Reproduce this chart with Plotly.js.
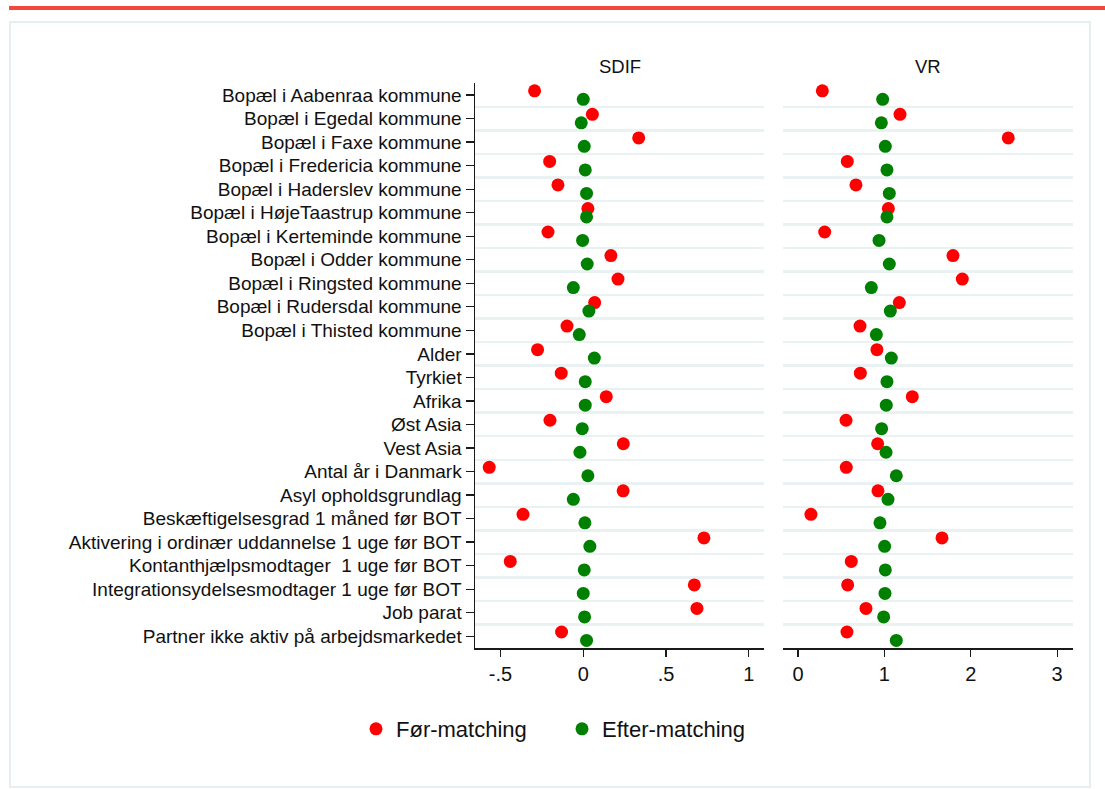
<!DOCTYPE html>
<html>
<head>
<meta charset="utf-8">
<script src="https://cdn.plot.ly/plotly-3.0.1.min.js"></script>
<style>html,body{margin:0;padding:0;background:#fff;}#chart{width:1105px;height:789px;}</style>
</head>
<body>
<div id="chart"></div>
<script>
const categories = [
  "Bopæl i Aabenraa kommune",
  "Bopæl i Egedal kommune",
  "Bopæl i Faxe kommune",
  "Bopæl i Fredericia kommune",
  "Bopæl i Haderslev kommune",
  "Bopæl i HøjeTaastrup kommune",
  "Bopæl i Kerteminde kommune",
  "Bopæl i Odder kommune",
  "Bopæl i Ringsted kommune",
  "Bopæl i Rudersdal kommune",
  "Bopæl i Thisted kommune",
  "Alder",
  "Tyrkiet",
  "Afrika",
  "Øst Asia",
  "Vest Asia",
  "Antal år i Danmark",
  "Asyl opholdsgrundlag",
  "Beskæftigelsesgrad 1 måned før BOT",
  "Aktivering i ordinær uddannelse 1 uge før BOT",
  "Kontanthjælpsmodtager  1 uge før BOT",
  "Integrationsydelsesmodtager 1 uge før BOT",
  "Job parat",
  "Partner ikke aktiv på arbejdsmarkedet"
];
const sdifFor   = [-0.294, 0.055, 0.335, -0.203, -0.153, 0.028, -0.213, 0.167, 0.210, 0.069, -0.098, -0.276, -0.133, 0.139, -0.201, 0.242, -0.568, 0.241, -0.364, 0.729, -0.441, 0.671, 0.687, -0.131];
const sdifEfter = [0.000, -0.012, 0.006, 0.012, 0.020, 0.020, -0.004, 0.024, -0.060, 0.034, -0.024, 0.067, 0.012, 0.012, -0.006, -0.020, 0.028, -0.060, 0.010, 0.040, 0.006, 0.000, 0.008, 0.020];
const vrFor     = [0.282, 1.181, 2.434, 0.571, 0.671, 1.046, 0.309, 1.794, 1.902, 1.173, 0.718, 0.914, 0.722, 1.323, 0.556, 0.922, 0.559, 0.926, 0.150, 1.667, 0.617, 0.575, 0.787, 0.567];
const vrEfter   = [0.980, 0.965, 1.011, 1.030, 1.057, 1.030, 0.938, 1.057, 0.849, 1.069, 0.907, 1.080, 1.030, 1.022, 0.968, 1.019, 1.138, 1.042, 0.949, 1.003, 1.011, 1.007, 0.992, 1.138];
const sdifTickVals = [-0.5, 0, 0.5, 1];
const sdifTickText = ["-.5", "0", ".5", "1"];
const vrTickVals = [0, 1, 2, 3];
const vrTickText = ["0", "1", "2", "3"];
const seriesNames = ["Før-matching", "Efter-matching"];
const panelTitles = ["SDIF", "VR"];

const W = 1105, H = 789;
const px = v => v / W;
const py = v => 1 - v / H;

const idx = categories.map((_, i) => i);
const off = 0.18;
const yFor = idx.map(i => i - off);
const yEfter = idx.map(i => i + off);
const RED = "#ff0000", GREEN = "#008000";
const FONT = "Liberation Sans, Arial, sans-serif";

const traces = [
  {x: sdifFor, y: yFor, xaxis: "x", yaxis: "y", type: "scatter", mode: "markers", name: seriesNames[0],
   marker: {color: RED, size: 13}, legend: "legend", hoverinfo: "x"},
  {x: sdifEfter, y: yEfter, xaxis: "x", yaxis: "y", type: "scatter", mode: "markers", name: seriesNames[1],
   marker: {color: GREEN, size: 13}, legend: "legend2", hoverinfo: "x"},
  {x: vrFor, y: yFor, xaxis: "x2", yaxis: "y", type: "scatter", mode: "markers", name: seriesNames[0],
   marker: {color: RED, size: 13}, showlegend: false, hoverinfo: "x"},
  {x: vrEfter, y: yEfter, xaxis: "x2", yaxis: "y", type: "scatter", mode: "markers", name: seriesNames[1],
   marker: {color: GREEN, size: 13}, showlegend: false, hoverinfo: "x"}
];

const minorVals = idx.slice(0, -1).map(i => i + 0.5);
const GRID = "#eaf1f3";

const xCommon = {
  showgrid: false, zeroline: false, showline: true, linecolor: "#1a1a1a", linewidth: 1.5,
  ticks: "outside", ticklen: 7, tickwidth: 1.3, tickcolor: "#1a1a1a",
  tickmode: "array", tickfont: {family: FONT, size: 20, color: "#111"}, anchor: "y",
  fixedrange: true
};

const layout = {
  width: W, height: H,
  margin: {l: 0, r: 0, t: 0, b: 0},
  paper_bgcolor: "#fff", plot_bgcolor: "#fff",
  showlegend: true,
  xaxis: Object.assign({}, xCommon, {
    domain: [px(475), px(764)], range: [-0.654, 1.092],
    tickvals: sdifTickVals, ticktext: sdifTickText
  }),
  xaxis2: Object.assign({}, xCommon, {
    domain: [px(783.3), px(1072.7)], range: [-0.170, 3.18],
    tickvals: vrTickVals, ticktext: vrTickText
  }),
  yaxis: {
    domain: [py(648), py(83.3)], range: [23.5, -0.5], anchor: "x",
    tickmode: "array", tickvals: idx, ticktext: categories,
    showgrid: false, zeroline: false, showline: true, linecolor: "#1a1a1a", linewidth: 1.5,
    ticks: "outside", ticklen: 8, tickwidth: 1.3, tickcolor: "#1a1a1a",
    tickfont: {family: FONT, size: 19, color: "#111"},
    minor: {tickmode: "array", tickvals: minorVals, showgrid: true, gridcolor: GRID, gridwidth: 2.5, ticks: ""},
    fixedrange: true
  },
  legend: {x: px(356), y: py(729), xanchor: "left", yanchor: "middle", orientation: "h",
           font: {family: FONT, size: 22, color: "#111"}, bgcolor: "rgba(0,0,0,0)", itemclick: false},
  legend2: {x: px(562), y: py(729), xanchor: "left", yanchor: "middle", orientation: "h",
            font: {family: FONT, size: 22, color: "#111"}, bgcolor: "rgba(0,0,0,0)", itemclick: false},
  annotations: [
    {text: panelTitles[0], xref: "paper", yref: "paper", x: px(619.5), y: py(66), xanchor: "center", yanchor: "middle",
     showarrow: false, font: {family: FONT, size: 18.5, color: "#111"}},
    {text: panelTitles[1], xref: "paper", yref: "paper", x: px(928), y: py(66), xanchor: "center", yanchor: "middle",
     showarrow: false, font: {family: FONT, size: 18.5, color: "#111"}}
  ],
  shapes: [
    {type: "rect", xref: "paper", yref: "paper", x0: px(10), x1: px(1090), y0: py(787), y1: py(22),
     line: {color: "#e6eef1", width: 2}, fillcolor: "rgba(0,0,0,0)", layer: "below"},
    {type: "rect", xref: "paper", yref: "paper", x0: px(9), x1: 1, y0: py(10), y1: py(6),
     line: {width: 0}, fillcolor: "#f2483a", layer: "above"}
  ]
};

Plotly.newPlot("chart", traces, layout, {displayModeBar: false, staticPlot: true});
</script>
</body>
</html>
